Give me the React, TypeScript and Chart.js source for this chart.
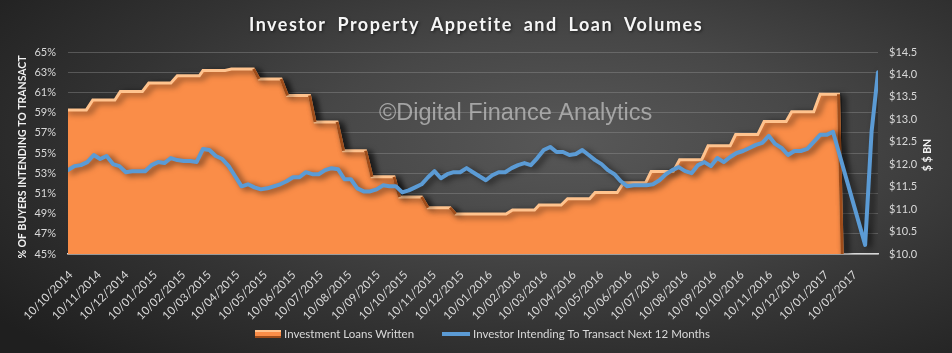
import React, { useEffect, useRef } from 'react';
import { Chart, registerables } from 'chart.js';

// ---------- data ----------
const chartTitle = 'Investor Property Appetite and Loan Volumes';
const leftAxisTitle = '% OF BUYERS INTENDING TO TRANSACT';
const rightAxisTitle = '$ $ BN';
const watermark = '\u00A9Digital Finance Analytics';
const loanSeriesName = 'Investment Loans Written';
const intentSeriesName = 'Investor Intending To Transact Next 12 Months';

const tickLabels = [
  '10/10/2014', '10/11/2014', '10/12/2014', '10/01/2015', '10/02/2015', '10/03/2015',
  '10/04/2015', '10/05/2015', '10/06/2015', '10/07/2015', '10/08/2015', '10/09/2015',
  '10/10/2015', '10/11/2015', '10/12/2015', '10/01/2016', '10/02/2016', '10/03/2016',
  '10/04/2016', '10/05/2016', '10/06/2016', '10/07/2016', '10/08/2016', '10/09/2016',
  '10/10/2016', '10/11/2016', '10/12/2016', '10/01/2017', '10/02/2017',
];

// Investment loans written ($bn), one value per month
const loanMonths = [
  '10/10/2014', '10/11/2014', '10/12/2014', '10/01/2015', '10/02/2015', '10/03/2015',
  '10/04/2015', '10/05/2015', '10/06/2015', '10/07/2015', '10/08/2015', '10/09/2015',
  '10/10/2015', '10/11/2015', '10/12/2015', '10/01/2016', '10/02/2016', '10/03/2016',
  '10/04/2016', '10/05/2016', '10/06/2016', '10/07/2016', '10/08/2016', '10/09/2016',
  '10/10/2016', '10/11/2016', '10/12/2016', '10/01/2017',
];
const loanValues = [
  13.21, 13.43, 13.62, 13.81, 13.97, 14.09, 14.12, 13.90, 13.53, 12.94, 12.30, 11.72,
  11.27, 11.03, 10.89, 10.89, 10.98, 11.09, 11.23, 11.37, 11.59, 11.84, 12.10, 12.41,
  12.66, 12.95, 13.17, 13.56,
];

// Investors intending to transact (%), weekly from the first week below
const intentFirstWeek = '07/10/2014';
const intentValues: (number | null)[] = [
  53.3, 53.7, 53.8, 54.1, 54.8, 54.4, 54.7, 53.9, 53.7, 53.1,
  53.2, 53.2, 53.2, 53.8, 54.1, 54.0, 54.5, 54.3, 54.2, 54.2,
  54.1, 55.4, 55.3, 54.7, 54.4, 53.7, 52.7, 51.7, 51.9, 51.6,
  51.4, 51.5, 51.7, 51.9, 52.2, 52.6, 52.6, 53.1, 52.9, 52.9,
  53.3, 53.5, 53.4, 52.4, 52.4, 51.5, 51.2, 51.2, 51.4, 51.8,
  51.7, 51.7, 51.1, 51.3, 51.6, 51.9, 52.6, 53.2, 52.5, 52.9,
  53.1, 53.1, 53.5, 53.1, 52.7, 52.3, 52.8, 53.1, 53.1, 53.5,
  53.8, 54.0, 53.8, 54.5, 55.3, 55.6, 55.1, 55.1, 54.8, 54.9,
  55.3, 54.8, 54.3, 53.9, 53.3, 52.9, 52.2, 51.7, 51.8, 51.8,
  51.8, 51.9, 52.3, 52.9, 53.3, 53.6, 53.2, 53.0, 53.8, 54.1,
  53.7, 54.5, 54.1, 54.6, 55.0, 55.2, 55.5, 55.8, 56.0, 56.7,
  55.9, 55.5, 54.8, 55.2, 55.2, 55.4, 56.1, 56.8, 56.8, 57.1,
  null, null, null, null, 45.9, 57.1, 63.0,
];

const leftMin = 45, leftMax = 65, leftStep = 2;
const rightMin = 10, rightMax = 14.5, rightStep = 0.5;

// ---------- helpers ----------
const dayOf = (s: string) => {
  const [d, m, y] = s.split('/').map(Number);
  return Date.UTC(y, m - 1, d) / 86400000;
};
const tickDays = tickLabels.map(dayOf);
const firstDay = dayOf(intentFirstWeek);
const lastDay = firstDay + (intentValues.length - 1) * 7;

const intentPoints = intentValues.map((v, i) => ({ x: firstDay + i * 7, y: v }));

const loanPoints: { x: number; y: number }[] = [];
loanMonths.forEach((m, i) => {
  const d = dayOf(m);
  const last = i === loanMonths.length - 1;
  loanPoints.push({ x: d - 7, y: loanValues[i] });
  loanPoints.push({ x: d + (last ? 13 : 17), y: loanValues[i] });
  if (last) loanPoints.push({ x: d + 17, y: rightMin });
});

const TEXT = '#D9D9D9';
const ORANGE = '#FA8D48';
const ORANGE_LIGHT = '#FFC38E';
const ORANGE_DARK = '#9E4C1A';
const BLUE = '#5B9BD5';
const CLEAR = 'rgba(0,0,0,0)';

const decorPlugin = {
  id: 'decor',
  beforeDatasetsDraw(chart: any) {
    const ctx = chart.ctx as CanvasRenderingContext2D;
    ctx.save();
    ctx.font = '23.5px "Liberation Sans", Arial, sans-serif';
    ctx.fillStyle = 'rgba(185,185,185,0.8)';
    ctx.textAlign = 'left';
    ctx.textBaseline = 'alphabetic';
    ctx.fillText(watermark, 379, 120);
    ctx.restore();
    // drop shadow for the data marks
    ctx.save();
    ctx.shadowColor = 'rgba(0,0,0,0.6)';
    ctx.shadowBlur = 6;
    ctx.shadowOffsetX = 4;
    ctx.shadowOffsetY = 2;
  },
  afterDatasetsDraw(chart: any) {
    chart.ctx.restore();
  },
  afterDraw(chart: any) {
    const ctx = chart.ctx as CanvasRenderingContext2D;
    // title
    ctx.save();
    ctx.font = 'bold 18px Lato, sans-serif';
    (ctx as any).letterSpacing = '1.5px';
    (ctx as any).wordSpacing = '5px';
    ctx.fillStyle = '#F5F5F5';
    ctx.textAlign = 'center';
    ctx.textBaseline = 'middle';
    ctx.shadowColor = 'rgba(0,0,0,0.6)';
    ctx.shadowBlur = 3;
    ctx.shadowOffsetX = 1;
    ctx.shadowOffsetY = 1;
    ctx.fillText(chartTitle, 476, 25);
    ctx.restore();

    // axis titles
    ctx.save();
    ctx.font = 'bold 10.5px Lato, sans-serif';
    ctx.fillStyle = '#F2F2F2';
    ctx.textAlign = 'center';
    ctx.textBaseline = 'middle';
    ctx.translate(23, 157);
    ctx.rotate(-Math.PI / 2);
    ctx.fillText(leftAxisTitle, 0, 0);
    ctx.restore();

    ctx.save();
    ctx.font = 'bold 10.5px Lato, sans-serif';
    ctx.fillStyle = '#F2F2F2';
    ctx.textAlign = 'center';
    ctx.textBaseline = 'middle';
    ctx.translate(928, 155);
    ctx.rotate(-Math.PI / 2);
    ctx.fillText(rightAxisTitle, 0, 0);
    ctx.restore();

    // legend
    ctx.save();
    ctx.fillStyle = ORANGE;
    ctx.fillRect(255, 330, 26, 8);
    ctx.fillStyle = ORANGE_LIGHT;
    ctx.fillRect(255, 330, 26, 2);
    ctx.fillStyle = ORANGE_DARK;
    ctx.fillRect(255, 336, 26, 2);
    ctx.strokeStyle = BLUE;
    ctx.lineWidth = 4;
    ctx.beginPath();
    ctx.moveTo(442, 334);
    ctx.lineTo(470, 334);
    ctx.stroke();
    ctx.font = '11.5px Lato, sans-serif';
    ctx.fillStyle = TEXT;
    ctx.textAlign = 'left';
    ctx.textBaseline = 'middle';
    ctx.fillText(loanSeriesName, 284, 334);
    ctx.fillText(intentSeriesName, 473, 334);
    ctx.restore();
  },
};

export default function App() {
  const canvasRef = useRef<HTMLCanvasElement | null>(null);

  useEffect(() => {
    Chart.register(...registerables);
    const canvas = canvasRef.current;
    if (!canvas) return;
    const chart = new Chart(canvas, {
      type: 'line',
      data: {
        datasets: [
          {
            label: intentSeriesName,
            data: intentPoints as any,
            yAxisID: 'y',
            borderColor: BLUE,
            borderWidth: 4,
            pointRadius: 0,
            tension: 0,
            spanGaps: true,
            fill: false,
            borderJoinStyle: 'round',
            borderCapStyle: 'round',
          },
          {
            // shaded falling faces of the loan steps
            label: loanSeriesName + ' edge',
            data: loanPoints as any,
            yAxisID: 'y1',
            borderColor: CLEAR,
            borderWidth: 3,
            pointRadius: 0,
            tension: 0,
            fill: false,
            segment: {
              borderColor: (c: any) => (c.p1.parsed.y < c.p0.parsed.y ? ORANGE_DARK : CLEAR),
            },
          },
          {
            label: loanSeriesName,
            data: loanPoints as any,
            yAxisID: 'y1',
            borderColor: ORANGE_LIGHT,
            backgroundColor: ORANGE,
            borderWidth: 3,
            pointRadius: 0,
            tension: 0,
            fill: 'start',
          },
        ],
      },
      options: {
        responsive: false,
        devicePixelRatio: 1,
        animation: false,
        layout: { padding: { top: 52, left: 0, right: 0, bottom: 0 } },
        plugins: {
          legend: { display: false },
          title: { display: false },
          tooltip: { enabled: false },
        },
        scales: {
          x: {
            type: 'linear',
            min: firstDay,
            max: lastDay,
            afterBuildTicks: (s: any) => {
              s.ticks = tickDays.map((v) => ({ value: v }));
            },
            afterFit: (s: any) => {
              s.height = 99;
            },
            grid: { display: false },
            border: { display: true, color: '#D9D9D9', width: 1.5 },
            ticks: {
              autoSkip: false,
              minRotation: 45,
              maxRotation: 45,
              color: TEXT,
              padding: 6,
              font: { family: 'Lato', size: 11.5 },
              callback: (_v: any, i: number) => tickLabels[i],
            },
          },
          y: {
            position: 'left',
            min: leftMin,
            max: leftMax,
            afterFit: (s: any) => {
              s.width = 68;
            },
            grid: { color: 'rgba(150,150,150,0.4)', drawTicks: false, lineWidth: 1 },
            border: { display: false },
            ticks: {
              stepSize: leftStep,
              color: TEXT,
              padding: 12,
              font: { family: 'Lato', size: 11 },
              callback: (v: any) => v + '%',
            },
          },
          y1: {
            position: 'right',
            min: rightMin,
            max: rightMax,
            afterFit: (s: any) => {
              s.width = 74;
            },
            grid: { display: false, drawTicks: false },
            border: { display: false },
            ticks: {
              stepSize: rightStep,
              color: TEXT,
              padding: 11,
              font: { family: 'Lato', size: 11 },
              callback: (v: any) => '$' + Number(v).toFixed(1),
            },
          },
        },
      } as any,
      plugins: [decorPlugin as any],
    });
    return () => chart.destroy();
  }, []);

  return (
    <div
      style={{
        position: 'fixed',
        left: 0,
        top: 0,
        width: 952,
        height: 353,
        background:
          'radial-gradient(ellipse 75% 85% at 60% 40%, #585858 0%, #474747 35%, #333333 65%, #1f1f1f 100%)',
      }}
    >
      <canvas ref={canvasRef} width={952} height={353} style={{ display: 'block' }} />
    </div>
  );
}
